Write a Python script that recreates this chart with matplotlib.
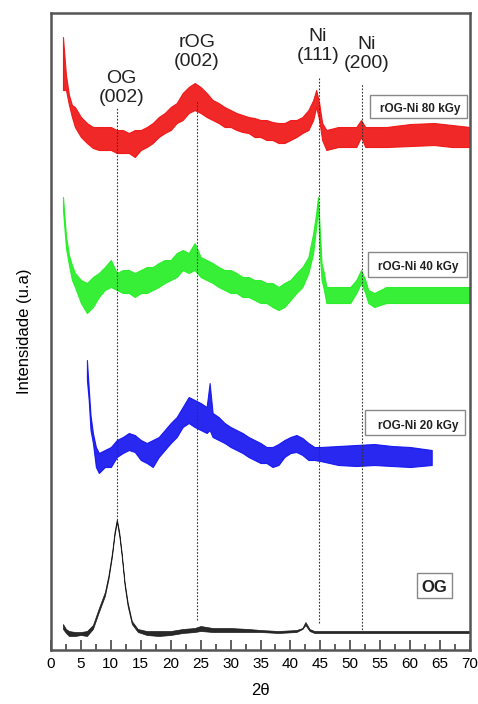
import matplotlib
matplotlib.use('Agg')
from matplotlib import pyplot as plt
from matplotlib import patches

plt.rcParams['font.family'] = ['Liberation Sans', 'DejaVu Sans']

# XRD patterns, each stored as (2theta, lower edge, upper edge) of the noisy trace.
# Intensities are in arbitrary units, already stacked.
og_x = [2.0, 2.5, 3.0, 4.0, 5.0, 6.0, 7.0, 8.0, 9.0, 9.6, 10.2, 10.6, 11.0, 11.4, 11.8,
        12.3, 12.8, 13.5, 14.5, 16.0, 18.0, 20.0, 22.0, 24.0, 25.0, 27.0, 30.0, 33.0,
        35.0, 38.0, 41.0, 42.0, 42.5, 43.2, 44.0, 47.0, 50.0, 55.0, 60.0, 65.0, 70.0]
og_lo = [21, 17, 14, 14, 15, 14, 21, 38, 54, 71, 94, 114, 128, 114, 94,
         64, 44, 26, 18, 15, 14, 15, 17, 18, 19, 18, 18, 18,
         18, 17, 18, 21, 25, 19, 17, 17, 17, 17, 17, 17, 17]
og_hi = [26, 21, 19, 18, 18, 19, 25, 42, 58, 75, 98, 118, 131, 118, 98,
         68, 48, 29, 21, 19, 19, 19, 21, 22, 24, 22, 22, 21,
         20, 19, 20, 22, 28, 21, 19, 19, 19, 19, 19, 19, 19]

kgy20_x = [6.0, 6.3, 6.6, 7.0, 7.5, 8.0, 9.0, 10.0, 11.0, 12.0, 13.0, 14.0, 15.0, 16.0,
           17.0, 18.0, 19.0, 20.0, 21.0, 22.0, 23.0, 24.0, 25.0, 26.0, 26.5, 27.0, 28.0,
           29.0, 30.0, 31.0, 32.0, 33.0, 34.0, 35.0, 36.0, 37.0, 38.0, 39.0, 40.0, 41.0,
           42.0, 43.0, 44.0, 45.0, 48.0, 51.0, 54.0, 57.0, 60.0, 63.6]
kgy20_lo = [270, 250, 220, 207, 183, 177, 183, 183, 193, 197, 200, 198, 190, 187,
            183, 193, 200, 207, 213, 223, 227, 223, 220, 217, 220, 213, 210,
            207, 203, 200, 197, 193, 190, 187, 187, 183, 185, 193, 197, 198,
            195, 190, 190, 189, 185, 184, 185, 184, 183, 185]
kgy20_hi = [290, 262, 235, 217, 203, 197, 200, 203, 210, 213, 217, 215, 210, 207,
            210, 213, 220, 227, 233, 243, 253, 250, 247, 243, 267, 237, 233,
            227, 223, 220, 217, 213, 210, 207, 203, 203, 206, 210, 213, 215,
            212, 207, 203, 203, 204, 205, 206, 204, 203, 200]

kgy40_x = [2.0, 2.5, 3.0, 3.5, 4.0, 5.0, 6.0, 7.0, 8.0, 9.0, 10.0, 11.0, 12.0, 13.0,
           14.0, 15.0, 16.0, 17.0, 18.0, 19.0, 20.0, 21.0, 22.0, 23.0, 24.0, 25.0,
           26.0, 27.0, 28.0, 29.0, 30.0, 31.0, 32.0, 33.0, 34.0, 35.0, 36.0, 37.0,
           38.0, 39.0, 40.0, 41.0, 42.0, 43.0, 43.8, 44.3, 44.6, 44.9, 45.2, 45.6,
           46.0, 48.0, 50.0, 51.0, 51.8, 52.5, 53.0, 54.0, 56.0, 60.0, 64.0, 70.0]
kgy40_lo = [440, 402, 385, 370, 363, 347, 337, 343, 353, 360, 363, 360, 357, 357,
            353, 357, 357, 360, 363, 367, 370, 373, 380, 377, 380, 373,
            370, 367, 363, 360, 357, 357, 353, 353, 350, 347, 347, 343,
            340, 343, 350, 357, 363, 377, 397, 423, 443, 397, 370, 360,
            347, 347, 347, 357, 367, 357, 347, 343, 347, 347, 347, 347]
kgy40_hi = [453, 415, 395, 385, 377, 370, 367, 373, 377, 383, 390, 377, 380, 380,
            377, 380, 383, 383, 387, 390, 390, 397, 400, 397, 407, 393,
            390, 387, 383, 380, 380, 377, 373, 373, 370, 370, 367, 367,
            363, 367, 370, 377, 383, 393, 417, 437, 453, 420, 387, 377,
            363, 363, 363, 370, 380, 370, 360, 357, 363, 363, 363, 363]

kgy80_x = [2.0, 2.5, 3.0, 3.5, 4.0, 5.0, 6.0, 7.0, 8.0, 9.0, 10.0, 11.0, 12.0, 13.0,
           14.0, 15.0, 16.0, 17.0, 18.0, 19.0, 20.0, 21.0, 22.0, 23.0, 24.0, 25.0,
           26.0, 27.0, 28.0, 29.0, 30.0, 31.0, 32.0, 33.0, 34.0, 35.0, 36.0, 37.0,
           38.0, 39.0, 40.0, 41.0, 42.0, 43.0, 43.8, 44.3, 44.8, 45.3, 46.0, 48.0,
           50.0, 51.0, 51.8, 52.5, 53.0, 56.0, 60.0, 64.0, 67.0, 70.0]
kgy80_lo = [560, 560, 545, 533, 523, 513, 507, 502, 500, 500, 500, 497, 497, 497,
            493, 500, 503, 507, 513, 517, 520, 527, 530, 537, 540, 537,
            533, 530, 527, 523, 523, 520, 518, 517, 513, 513, 510, 510,
            507, 507, 510, 513, 517, 520, 530, 543, 530, 510, 500, 503,
            503, 503, 513, 503, 503, 503, 504, 505, 503, 503]
kgy80_hi = [613, 575, 555, 545, 543, 533, 527, 523, 523, 523, 523, 520, 520, 517,
            520, 520, 523, 527, 533, 537, 543, 547, 557, 563, 567, 563,
            557, 550, 547, 543, 540, 537, 535, 533, 532, 530, 530, 528,
            527, 527, 530, 530, 533, 540, 550, 560, 547, 527, 520, 523,
            523, 523, 530, 523, 523, 523, 526, 527, 525, 523]

traces = [
    (og_x, og_lo, og_hi, '#111111', 0.5),
    (kgy20_x, kgy20_lo, kgy20_hi, '#1010f0', 0.8),
    (kgy40_x, kgy40_lo, kgy40_hi, '#22ee22', 0.8),
    (kgy80_x, kgy80_lo, kgy80_hi, '#f01010', 0.8),
]

# reflection markers
peak_lines = [11.0, 24.4, 44.8, 52.0]
peak_tops = [543, 550, 573, 567]
peak_bottoms = [130, 30, 27, 17]
peak_labels = ['OG\n(002)', 'rOG\n(002)', 'Ni\n(111)', 'Ni\n(200)']
peak_label_x = [11.8, 24.4, 44.6, 52.8]
peak_label_y = [562, 598, 604, 596]

sample_names = ['rOG-Ni 80 kGy', 'rOG-Ni 40 kGy', 'rOG-Ni 20 kGy', 'OG']
box_x = [53.3, 52.9, 52.5, 61.1]
box_w = [16.2, 16.6, 16.7, 5.9]
box_y = [532, 373, 215, 52]
box_h = [23, 25, 25, 25]
name_x = [61.6, 61.3, 61.3, 64.1]
name_y = [541, 383, 224, 63]
name_size = [8.5, 8.5, 8.5, 12]

fig = plt.figure(figsize=(4.78, 7.04), dpi=100)
ax = fig.add_axes([0.1067, 0.0767, 0.8766, 0.9048])

for x, lo, hi, color, lw in traces:
    ax.fill_between(x, lo, hi, color=color, lw=lw, alpha=0.9)

for xp, top, bottom in zip(peak_lines, peak_tops, peak_bottoms):
    ax.plot([xp, xp], [bottom, top], color='#333333', lw=0.8, ls=(0, (1.5, 1.5)))

for text, lx, ly in zip(peak_labels, peak_label_x, peak_label_y):
    ax.text(lx, ly, text, ha='center', va='center', fontsize=14,
            color='#222222', linespacing=1.15)

for name, bx, bw, by, bh, nx, ny, fs in zip(sample_names, box_x, box_w, box_y, box_h,
                                             name_x, name_y, name_size):
    ax.add_patch(patches.Rectangle((bx, by), bw, bh, fill=False, edgecolor='#888888', lw=1.0))
    ax.text(nx, ny, name, ha='center', va='center', fontsize=fs, fontweight='bold',
            color='#222222')

ax.set_xlim(0, 70)
ax.set_ylim(0, 637)
ax.set_xticks(range(0, 71, 5))
ax.set_xticks([2.5 + 5 * i for i in range(14)], minor=True)
ax.set_yticks([])
ax.tick_params(axis='x', which='major', direction='in', length=7, width=1.2,
               color='#444444', labelsize=11, pad=5)
ax.tick_params(axis='x', which='minor', direction='in', length=4, width=1.2, color='#444444')
for spine in ax.spines.values():
    spine.set_color('#555555')
    spine.set_linewidth(1.8)

ax.set_xlabel('2θ', fontsize=12, labelpad=9)
ax.set_ylabel('Intensidade (u.a)', fontsize=12, labelpad=14)

fig.savefig('out.png', dpi=100)
